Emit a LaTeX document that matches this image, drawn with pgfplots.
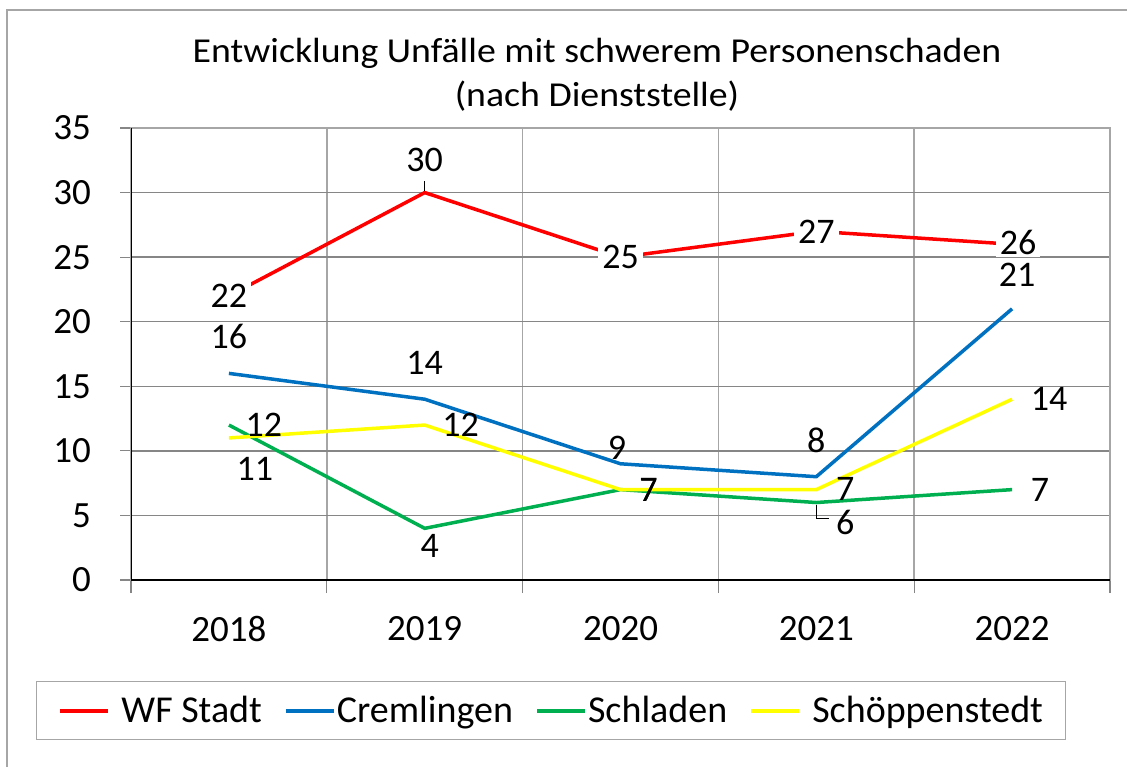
\documentclass[border=0pt]{standalone}
\usepackage{pgfplots}
\usepackage{pgfplotstable}
\usepackage{fontspec}
\setmainfont{Carlito}
\newfontfamily\titlefont[FakeStretch=1.08]{Carlito}
\pgfplotsset{compat=1.18}
\pgfplotsset{/pgf/number format/assume math mode=true}
\definecolor{cred}{RGB}{255,0,0}
\definecolor{cblue}{RGB}{0,112,192}
\definecolor{cgreen}{RGB}{0,176,80}
\definecolor{cyellow}{RGB}{255,255,0}
\definecolor{hgrid}{RGB}{134,134,134}
\definecolor{vgrid}{RGB}{166,166,166}

\pgfplotstableread{
x y dx dy
0 22 0 0
1 30 0 16.5
2 25 0 0
3 27 0 0
4 26 3 1
}\wf
\pgfplotstableread{
x y dx dy
0 16 0 18.5
1 14 0 18
2 9 -1.75 8
3 8 0 18
4 21 2.5 17
}\crem
\pgfplotstableread{
x y dx dy
0 12 17.5 0
1 4 2.5 -9
2 7 14 0
3 6 14.5 -10
4 7 14 0
}\schl
\pgfplotstableread{
x y dx dy
0 11 13 -15.5
1 12 18 0
2 7 14 0
3 7 14.5 0.5
4 14 18.5 0
}\schoe

\begin{document}
\begin{tikzpicture}
\path[use as bounding box] (0,0) rectangle (563.5pt,383.5pt);
\draw[vgrid, line width=0.75pt] (3.5pt,0) -- (3.5pt,378.5pt) -- (563.5pt,378.5pt);
\begin{axis}[
  at={(65.5pt,93.5pt)}, anchor=south west,
  scale only axis, width=489.5pt, height=226pt,
  xmin=-0.5, xmax=4.5, ymin=0, ymax=35,
  xtick={0,...,4}, xticklabels={2018,2019,2020,2021,2022},
  minor xtick={-0.5,0.5,...,4.5},
  ytick={0,5,...,35},
  ymajorgrids, xminorgrids,
  major y grid style={hgrid, line width=0.75pt},
  minor x grid style={vgrid, line width=0.75pt},
  axis line style={draw=vgrid, line width=0.75pt},
  tick align=outside, tick pos=left,
  major tick length=5.5pt, minor tick length=6.5pt,
  major x tick style={draw=none},
  tick style={hgrid, line width=0.6pt},
  tick label style={font=\fontsize{18.5}{20}\selectfont},
  xticklabel style={yshift=-9pt},
  yticklabel style={xshift=-11pt},
  title={Entwicklung Unfälle mit schwerem Personenschaden\\(nach Dienststelle)},
  title style={at={(0.476,1)}, anchor=south, yshift=-1pt, align=center, font=\titlefont\fontsize{17.5}{22}\selectfont},
  legend style={at={(-0.097,-0.2887)}, anchor=west, legend columns=4, draw=gray!70,
    font=\fontsize{19}{21}\selectfont, inner xsep=11pt, inner ysep=7pt,
    nodes={inner sep=0pt},
    /tikz/every odd column/.append style={column sep=5.5pt},
    /tikz/every even column/.append style={column sep=11pt}},
  legend image code/.code={\draw[#1, line width=2pt] (0pt,0pt) -- (24pt,0pt);},
  every node near coord/.append style={anchor=center, text=black, font=\fontsize{18}{20}\selectfont, inner sep=0.5pt},
  nodes near coords,
  visualization depends on={\thisrow{dx}\as\dx},
  visualization depends on={\thisrow{dy}\as\dy},
]
\addplot[cred, line width=1.75pt, every node near coord/.append style={xshift=\dx pt, yshift=\dy pt, fill=white, inner xsep=2pt, inner ysep=1pt}] table[x=x,y=y]{\wf};
\addlegendentry{WF Stadt}
\addplot[cblue, line width=1.75pt, every node near coord/.append style={xshift=\dx pt, yshift=\dy pt}] table[x=x,y=y]{\crem};
\addlegendentry{\hspace{-5pt}Cremlingen}
\addplot[cgreen, line width=1.75pt, every node near coord/.append style={xshift=\dx pt, yshift=\dy pt}] table[x=x,y=y]{\schl};
\addlegendentry{\hspace{-5pt}Schladen}
\addplot[cyellow, line width=1.75pt, every node near coord/.append style={xshift=\dx pt, yshift=\dy pt}] table[x=x,y=y]{\schoe};
\addlegendentry{Schöppenstedt}
\draw[black, line width=0.5pt] ([yshift=1pt]axis cs:1,30) -- ([yshift=6pt]axis cs:1,30);
\draw[black, line width=0.5pt] ([yshift=-1pt]axis cs:3,6) -- ([yshift=-8pt]axis cs:3,6) -- ([xshift=6.5pt,yshift=-8pt]axis cs:3,6);
\draw[black, line width=1pt] (rel axis cs:0,1) -- (rel axis cs:0,0) -- (rel axis cs:1,0);
\end{axis}
\end{tikzpicture}
\end{document}
